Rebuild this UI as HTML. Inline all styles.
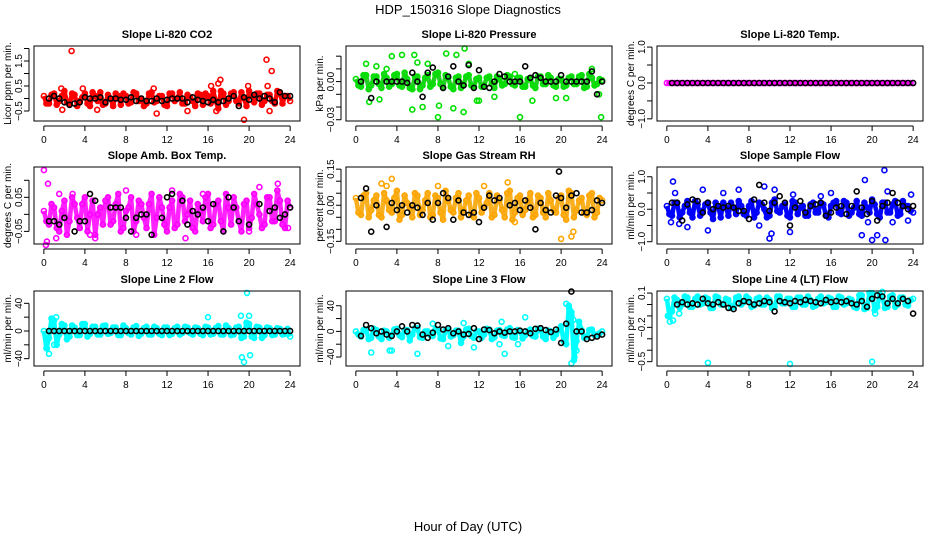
<!DOCTYPE html>
<html><head><meta charset="utf-8"><style>
html,body{margin:0;padding:0;background:#fff;}
svg{display:block;font-family:"Liberation Sans",Arial,sans-serif;}
</style></head><body>
<svg id="chart" width="936" height="540" viewBox="0 0 936 540" xmlns="http://www.w3.org/2000/svg">
<rect width="936" height="540" fill="#fff"/>
<text x="468" y="14" font-size="13" text-anchor="middle">HDP_150316  Slope Diagnostics</text>
<text x="468" y="531" font-size="13" text-anchor="middle">Hour of Day (UTC)</text>
<g id="panels"></g>
</svg>
<script>
const xTicks=[0,4,8,12,16,20,24];
const co2A=[0.1,-0.2,0.2,-0.1,0.3,-0.25,0.15,-0.1,0.2,-0.3,0.1,0.25,-0.2,0.0,0.2,-0.25,0.1,-0.15,0.2,0.0,-0.2,0.25,-0.1,0.1,-0.3,0.2,0.0,-0.2,0.15,-0.1,0.2,-0.25,0.1,0.3,-0.4,0.2,-0.1,0.25,-0.2,0.0,0.3,-0.15,0.2,-0.1,0.15,-0.2,0.25,0.1,-0.1];
const co2B=[-0.2,0.15,-0.25,0.1,-0.15,0.2,-0.3,0.05,-0.2,0.25,-0.1,-0.25,0.15,-0.3,0.1,0.2,-0.2,0.25,-0.1,-0.3,0.2,-0.15,0.1,-0.25,0.2,-0.1,0.25,-0.2,0.05,-0.3,0.15,0.2,-0.2,-0.1,0.3,-0.25,0.2,-0.1,0.25,-0.3,0.1,0.2,-0.25,0.15,-0.1,0.3,-0.2,0.1];
const co2Out=[[2.7,1.9],[21.7,1.55],[22.2,1.1],[19.5,-0.85],[1.7,0.4],[17,0.6],[17.2,0.75],[16.8,-0.5],[11,-0.6],[14,-0.5],[21.8,0.5],[1.8,-0.45],[5.2,-0.45],[10.7,0.4],[19.9,0.5],[22,-0.5],[3.8,0.4],[16.3,0.5]];
const co2K=[null,0.0,0.1,0.0,-0.15,-0.25,-0.2,-0.15,0.05,0.0,0.0,0.05,-0.15,0.0,0.0,-0.05,-0.05,0.05,-0.1,0.0,-0.1,-0.1,0.0,-0.1,-0.05,0.0,0.0,0.0,-0.15,0.05,-0.05,-0.1,-0.15,-0.05,-0.15,-0.1,0.0,0.1,-0.3,0.05,-0.05,0.15,0.0,0.1,0.0,-0.15,0.25,0.1,0.1];
const prA=[0.002,-0.004,0.005,-0.003,0.004,-0.005,0.003,-0.002,0.006,-0.004,0.002,-0.006,0.004,-0.003,0.005,-0.002,0.007,-0.005,0.003,-0.006,0.004,-0.002,0.005,-0.004,0.003,-0.003,0.004,-0.005,0.002,-0.002,0.004,-0.003,0.003,-0.004,0.002,-0.005,0.004,-0.002,0.003,-0.004,0.002,-0.003,0.004,-0.002,0.005,-0.004,0.003,-0.002,0.001];
const prB=[-0.003,0.005,-0.006,0.004,-0.002,0.006,-0.004,0.005,-0.003,0.007,-0.005,0.004,-0.006,0.003,-0.004,0.006,-0.002,0.005,-0.004,0.003,-0.005,0.004,-0.003,0.002,-0.004,0.003,-0.002,0.004,-0.003,0.005,-0.002,0.003,-0.004,0.002,-0.003,0.004,-0.002,0.005,-0.003,0.002,-0.004,0.003,-0.002,0.004,-0.005,0.006,-0.003,0.002];
const prOut=[[1,0.014],[1.3,-0.016],[2,0.012],[2.3,-0.014],[3,0.01],[3.5,0.02],[4.5,0.021],[5.5,-0.022],[5.7,0.021],[6,0.015],[6.5,-0.02],[7,0.014],[8,-0.028],[8.1,-0.019],[8.8,0.022],[9.5,-0.021],[9.8,0.021],[10.5,-0.024],[10.6,0.026],[11,0.014],[11.8,-0.015],[12,-0.015],[13.5,-0.012],[15.5,0.006],[16,-0.028],[17.2,-0.015],[19.5,-0.013],[20.5,-0.013],[23,0.01],[23.9,-0.028],[23.7,-0.01]];
const prK=[null,0,null,-0.013,0,null,0,0,0,0,-0.001,0.007,0,-0.012,0.007,0.011,null,-0.005,0.004,0.012,0,-0.003,0.013,-0.005,0.009,-0.004,-0.005,0,0.006,0.004,0,0,0,0.012,0.003,0.005,0.003,0,0,0,0.005,0,0,0,0,0,0.008,-0.01,0];
const tmA=[0,0,0,0,0,0,0,0,0,0,0,0,0,0,0,0,0,0,0,0,0,0,0,0,0,0,0,0,0,0,0,0,0,0,0,0,0,0,0,0,0,0,0,0,0,0,0,0,0];
const tmB=[0,0,0,0,0,0,0,0,0,0,0,0,0,0,0,0,0,0,0,0,0,0,0,0,0,0,0,0,0,0,0,0,0,0,0,0,0,0,0,0,0,0,0,0,0,0,0,0];
const tmK=[null,0,0,0,0,0,0,0,0,0,0,0,0,0,0,0,0,0,0,0,0,0,0,0,0,0,0,0,0,0,0,0,0,0,0,0,0,0,0,0,0,0,0,0,0,0,0,0,0];
const amA=[0.01,-0.03,0.02,-0.05,0.04,-0.02,0.03,-0.04,0.05,0.0,-0.06,0.02,0.04,-0.03,0.03,-0.05,0.01,0.05,-0.02,0.03,-0.04,0.06,-0.01,0.02,-0.05,0.04,-0.03,0.05,0.0,-0.04,0.03,-0.02,0.06,-0.03,0.04,-0.05,0.02,0.05,-0.02,0.03,-0.04,0.06,0.0,-0.03,0.05,-0.02,0.04,-0.04,0.02];
const amB=[-0.02,0.03,-0.04,0.01,-0.06,0.05,-0.01,0.03,-0.05,0.04,0.0,-0.03,0.05,-0.02,0.06,-0.04,0.02,-0.05,0.04,-0.01,0.03,-0.06,0.05,-0.03,0.02,-0.04,0.06,-0.02,0.04,-0.05,0.01,0.05,-0.04,0.03,-0.02,0.06,-0.03,0.02,-0.05,0.04,-0.01,0.03,-0.04,0.05,-0.02,0.07,-0.03,0.04];
const amOut=[[0,0.13],[0.4,0.09],[0.3,-0.08],[0.2,-0.09],[1.2,-0.07],[1.5,0.06],[2.8,0.06],[4.5,-0.06],[5,-0.07],[8,0.07],[9,-0.06],[13.8,-0.07],[15.5,0.06],[21,0.08],[22.8,0.09],[23.8,-0.04],[20,-0.05],[12.5,0.07]];
const amK=[null,-0.02,-0.02,-0.03,-0.01,null,-0.05,-0.02,-0.02,0.06,0.04,null,null,0.02,0.02,0.02,-0.01,-0.05,-0.01,0.0,0.0,-0.06,null,-0.01,0.05,0.06,null,0.04,-0.03,0.01,0.0,0.02,-0.02,0.03,null,-0.05,0.05,0.02,-0.02,null,-0.03,null,0.03,null,0.01,0.02,-0.01,0.0,0.02];
const rhA=[0.03,-0.04,0.05,-0.02,0.04,-0.05,0.02,-0.03,0.06,-0.04,0.01,-0.05,0.04,-0.02,0.05,-0.04,0.03,-0.06,0.02,-0.03,0.05,-0.02,0.04,-0.05,0.03,-0.01,0.05,-0.04,0.02,-0.05,0.06,-0.03,0.04,-0.02,0.05,-0.04,0.03,-0.05,0.02,-0.03,0.04,-0.06,0.05,-0.02,0.03,-0.04,0.05,-0.03,0.02];
const rhB=[-0.03,0.04,-0.05,0.02,-0.04,0.05,-0.02,0.03,-0.06,0.04,-0.01,0.05,-0.04,0.02,-0.05,0.04,-0.03,0.06,-0.02,0.03,-0.05,0.02,-0.04,0.05,-0.03,0.01,-0.05,0.04,-0.02,0.05,-0.06,0.03,-0.04,0.02,-0.05,0.04,-0.03,0.05,-0.02,0.03,-0.04,0.06,-0.05,0.02,-0.03,0.04,-0.05,0.03];
const rhOut=[[3.5,0.11],[2.5,0.09],[3,0.08],[14.8,0.095],[20,-0.14],[21,-0.13],[21.2,-0.11],[15.5,-0.07],[8,0.08],[12.5,0.08]];
const rhK=[null,0.03,0.07,-0.11,0.0,null,-0.09,0.01,-0.02,0.0,-0.03,0.0,-0.01,-0.04,0.01,-0.06,0.01,0.05,0.03,-0.06,0.02,-0.03,-0.04,-0.03,-0.07,-0.01,0.04,0.02,0.03,null,0.0,0.01,-0.02,0.02,-0.01,-0.1,0.01,-0.02,-0.03,0.04,0.03,-0.01,0.04,0.05,-0.03,-0.03,-0.02,0.02,0.01];
const rhKOut=[[19.8,0.14]];
const sfA=[0.1,-0.2,0.2,-0.1,0.25,-0.25,0.15,-0.05,0.2,-0.3,0.1,0.2,-0.2,0.05,0.25,-0.15,0.1,-0.25,0.2,0.0,-0.2,0.3,-0.1,0.15,-0.25,0.2,0.05,-0.2,0.15,-0.1,0.2,-0.2,0.1,0.25,-0.15,0.2,-0.1,0.25,-0.2,0.05,0.3,-0.15,0.2,-0.1,0.15,-0.2,0.25,0.1,-0.1];
const sfB=[-0.15,0.2,-0.25,0.1,-0.1,0.25,-0.2,0.15,-0.1,0.2,-0.25,0.05,0.2,-0.15,0.1,-0.2,0.25,-0.1,0.15,-0.25,0.2,-0.05,0.1,-0.2,0.25,-0.15,0.1,-0.2,0.2,-0.1,0.15,-0.25,0.2,-0.1,0.25,-0.2,0.05,-0.15,0.2,-0.1,0.15,-0.25,0.2,-0.1,0.25,-0.15,0.1,-0.05];
const sfOut=[[0.4,-0.4],[0.6,0.85],[0.8,0.5],[1.2,-0.45],[2,-0.55],[3.5,0.6],[4,-0.65],[5.5,0.5],[7,0.6],[9,-0.5],[9.5,0.7],[10,-0.9],[10.2,-0.75],[10.5,0.6],[12,-0.7],[12.3,0.45],[15,0.4],[16,0.5],[19,-0.8],[19.3,0.9],[19.6,-0.4],[20,-0.95],[20.5,-0.8],[21.2,1.2],[21.3,-0.95],[21.5,0.55],[22,-0.4],[23.8,0.45],[23.5,-0.35]];
const sfK=[null,0.2,0.2,-0.35,0.15,0.3,0.25,-0.1,0.2,0.0,0.1,0.05,0.1,0.05,-0.05,-0.05,-0.3,0.3,0.75,0.2,-0.05,0.2,0.4,0.2,-0.5,0.05,0.25,-0.1,0.1,0.15,0.2,-0.2,-0.1,0.05,0.1,-0.15,0.1,0.55,0.05,-0.15,0.25,-0.35,0.1,0.2,0.5,0.2,0.1,0.0,0.1];
const l2A=[0,-10,15,-5,8,-8,5,-6,10,-4,6,-5,8,-3,5,-6,4,-5,7,-4,6,-5,4,-6,5,-4,6,-3,5,-5,4,-6,5,-4,7,-5,4,-5,6,-8,10,-10,5,-6,4,-5,3,-4,-8];
const l2B=[-25,18,-20,10,-12,8,-6,10,-8,6,-5,7,-4,5,-6,8,-3,5,-7,4,-5,6,-4,5,-6,4,-5,6,-3,5,-4,6,-5,4,-5,8,-6,5,-10,12,-8,6,-10,5,-6,4,-5,3];
const l2Out=[[0.5,-33],[0.3,-25],[1,-20],[1.2,20],[19.3,-38],[19.5,-45],[19.8,55],[20,22],[20.1,-35],[19.2,22],[16,20]];
const l2K=[null,0,0,0,0,0,0,0,0,0,0,0,0,0,0,0,0,0,0,0,0,0,0,0,0,0,0,0,0,0,0,0,0,0,0,0,0,0,0,0,0,0,0,0,0,0,0,0,0];
const l3A=[0,-8,3,-10,2,-12,0,-6,4,-9,2,-5,5,-10,0,-7,3,-12,2,-6,1,-8,4,-10,0,-5,3,-9,2,-7,5,-10,1,-6,3,-8,2,-12,0,-5,8,-20,30,-15,2,-8,3,-5,0];
const l3B=[-5,2,-12,4,-8,1,-10,3,-6,2,-14,5,-9,0,-6,3,-11,2,-8,1,-18,3,-7,0,-10,4,-12,1,-6,3,-9,2,-11,0,-7,4,-8,1,-10,2,-15,40,-45,15,-10,2,-6,-3];
const l3Out=[[1.5,-33],[3.3,-30],[3.5,-30],[6,-35],[9,-23],[11.5,-25],[14.5,-35],[14,-20],[14.2,15],[15.8,-20],[20.5,43],[20.8,35],[21,-50],[21.3,-40],[21.5,-30],[21,25],[21.2,18],[16.5,22],[10.5,13],[7.5,12]];
const l3K=[null,-7,10,5,-3,0,-5,-7,0,8,0,10,9,-5,-10,-2,10,3,5,-3,0,-5,-4,5,-12,3,2,-3,0,-2,0,0,1,0,-3,4,5,2,-1,3,-18,12,62,0,0,-12,-10,-8,-5];
const l4A=[0.05,-0.06,0.04,0.0,0.06,-0.02,0.07,0.01,0.05,-0.03,0.06,0.0,0.04,-0.02,0.07,0.02,0.05,-0.01,0.06,0.0,0.04,-0.02,0.07,0.01,0.05,-0.02,0.06,0.0,0.04,-0.01,0.07,0.02,0.05,-0.02,0.06,0.01,0.04,-0.03,0.08,-0.03,0.09,-0.02,0.07,-0.02,0.08,0.0,0.06,-0.01,0.05];
const l4B=[-0.1,0.06,-0.03,0.07,-0.02,0.05,0.0,0.06,-0.03,0.07,0.0,0.05,-0.03,0.06,0.0,0.07,-0.02,0.05,0.0,0.06,-0.03,0.07,0.01,0.05,-0.02,0.06,0.0,0.07,-0.02,0.05,0.01,0.06,-0.02,0.07,0.0,0.05,-0.02,0.08,-0.04,0.1,-0.05,0.09,-0.03,0.07,-0.02,0.06,0.0,0.04];
const l4Out=[[0.1,-0.1],[0.3,-0.15],[0.6,-0.14],[1.2,-0.08],[4,-0.51],[12,-0.52],[20,-0.5],[21,0.11],[20.3,-0.08],[20,0.1]];
const l4K=[null,null,0.0,0.02,0.0,0.01,0.0,0.05,0.01,0.0,0.02,0.0,-0.03,-0.04,0.01,0.03,0.02,0.0,0.01,0.03,0.02,-0.06,0.03,0.02,0.01,0.03,0.02,0.04,0.03,0.02,0.01,0.04,0.02,0.03,0.02,0.03,0.01,0.0,0.03,-0.02,0.05,0.08,0.07,0.01,0.05,0.01,0.05,0.03,-0.08];

const NS="http://www.w3.org/2000/svg";
const cols=[[34,300],[346,612],[657,923]];
const rows=[[46,121],[167,244],[291,366]];
const panels=[
 {key:"co2",title:"Slope Li-820 CO2",ylab:"Licor ppm per min.",c:0,r:0,ylim:[-0.9,2.1],ticks:[-0.5,0,0.5,1,1.5,2],labs:{"-0.5":"−0.5","0.5":"0.5","1.5":"1.5"},col:"#ff0000",band:"#ff0000",A:co2A,B:co2B,O:co2Out,K:co2K,KO:[]},
 {key:"pressure",title:"Slope Li-820 Pressure",ylab:"kPa per min.",c:1,r:0,ylim:[-0.031,0.028],ticks:[-0.03,-0.02,-0.01,0,0.01,0.02],labs:{"-0.03":"−0.03","0":"0.00"},col:"#00e000",band:"#22d022",A:prA,B:prB,O:prOut,K:prK,KO:[]},
 {key:"temp",title:"Slope Li-820 Temp.",ylab:"degrees C per min.",c:2,r:0,ylim:[-1.06,1.03],ticks:[-1,-0.5,0,0.5,1],labs:{"-1":"−1.0","0":"0.0","1":"1.0"},col:"#ff00ff",band:"#ff00ff",A:tmA,B:tmB,O:[],K:tmK,KO:[]},
 {key:"ambbox",title:"Slope Amb. Box Temp.",ylab:"degrees C per min.",c:0,r:1,ylim:[-0.087,0.139],ticks:[-0.05,0,0.05,0.1],labs:{"-0.05":"−0.05","0.05":"0.05"},col:"#ff00ff",band:"#ff22ff",A:amA,B:amB,O:amOut,K:amK,KO:[]},
 {key:"rh",title:"Slope Gas Stream RH",ylab:"percent per min.",c:1,r:1,ylim:[-0.161,0.159],ticks:[-0.15,-0.1,-0.05,0,0.05,0.1,0.15],labs:{"-0.15":"−0.15","0":"0.00","0.15":"0.15"},col:"#ffa500",band:"#f8b020",A:rhA,B:rhB,O:rhOut,K:rhK,KO:rhKOut},
 {key:"sampleflow",title:"Slope Sample Flow",ylab:"ml/min per min.",c:2,r:1,ylim:[-1.07,1.3],ticks:[-1,-0.5,0,0.5,1],labs:{"-1":"−1.0","0":"0.0","1":"1.0"},col:"#0000ff",band:"#0000ff",A:sfA,B:sfB,O:sfOut,K:sfK,KO:[]},
 {key:"line2",title:"Slope Line 2 Flow",ylab:"ml/min per min.",c:0,r:2,ylim:[-50.6,57.8],ticks:[-40,-20,0,20,40],labs:{"-40":"−40","0":"0","40":"40"},col:"#00ffff",band:"#00ffff",A:l2A,B:l2B,O:l2Out,K:l2K,KO:[]},
 {key:"line3",title:"Slope Line 3 Flow",ylab:"ml/min per min.",c:1,r:2,ylim:[-54,63],ticks:[-40,-20,0,20,40],labs:{"-40":"−40","0":"0","40":"40"},col:"#00ffff",band:"#00ffff",A:l3A,B:l3B,O:l3Out,K:l3K,KO:[]},
 {key:"line4",title:"Slope Line 4 (LT) Flow",ylab:"ml/min per min.",c:2,r:2,ylim:[-0.538,0.118],ticks:[-0.5,-0.4,-0.3,-0.2,-0.1,0,0.1],labs:{"-0.5":"−0.5","-0.2":"−0.2","0.1":"0.1"},col:"#00ffff",band:"#00ffff",A:l4A,B:l4B,O:l4Out,K:l4K,KO:[]}
];
function mk(tag,attrs,parent){const e=document.createElementNS(NS,tag);for(const k in attrs)e.setAttribute(k,attrs[k]);parent.appendChild(e);return e;}
const root=document.getElementById("panels");
panels.forEach(p=>{
 const [l,r]=cols[p.c],[t,b]=rows[p.r];
 const xs=h=>l+(h+0.96)/25.92*(r-l);
 const ys=v=>b-(v-p.ylim[0])/(p.ylim[1]-p.ylim[0])*(b-t);
 const g=mk("g",{},root);
 
 
 const ti=mk("text",{x:(l+r)/2,y:t-8,"font-size":11,"font-weight":"bold","text-anchor":"middle"},g);ti.textContent=p.title;
 
 
 const yl=mk("text",{x:0,y:0,"font-size":10,"text-anchor":"middle",transform:`translate(${l-23},${(t+b)/2}) rotate(-90)`},g);yl.textContent=p.ylab;
 
 
 // dense cloud band: zigzag through A and B values
 let zz=[];
 p.A.forEach((v,i)=>{zz.push(xs(i*0.5).toFixed(1)+","+ys(v).toFixed(1));
   if(i<p.B.length)zz.push(xs(i*0.5+0.25).toFixed(1)+","+ys(p.B[i]).toFixed(1));});
 const band=mk("polyline",{points:zz.join(" "),fill:"none",stroke:p.band,"stroke-width":4.5,"stroke-linejoin":"round"},g);
 
 
 const pts=mk("g",{fill:"none","stroke-width":1.6},g);
 
 
 function dot(h,v,color){const c=mk("circle",{cx:xs(h).toFixed(1),cy:ys(v).toFixed(1),r:2.5,stroke:color},pts);
  
  }
 p.A.forEach((v,i)=>{if(v!==null)dot(i*0.5,v,p.col);});
 p.B.forEach((v,i)=>{if(v!==null)dot(i*0.5+0.25,v,p.col);});
 p.O.forEach(d=>dot(d[0],d[1],p.col));
 p.K.forEach((v,i)=>{if(v!==null)dot(i*0.5,v,"#000");});
 p.KO.forEach(d=>dot(d[0],d[1],"#000"));
 const box=mk("rect",{x:l,y:t,width:r-l,height:b-t,fill:"none",stroke:"#000","stroke-width":1},g);
 
 
 const ax=mk("g",{stroke:"#000","stroke-width":1},g);
 
 
 mk("line",{x1:xs(0),x2:xs(24),y1:b+5,y2:b+5},ax);
 xTicks.forEach(h=>{mk("line",{x1:xs(h),x2:xs(h),y1:b+5,y2:b+10},ax);
  const tx=mk("text",{x:xs(h),y:b+22,"font-size":10,"text-anchor":"middle",stroke:"none",fill:"#000"},g);tx.textContent=h;
  
  });
 mk("line",{x1:l-5,x2:l-5,y1:ys(p.ticks[0]),y2:ys(p.ticks[p.ticks.length-1])},ax);
 p.ticks.forEach(v=>{mk("line",{x1:l-10,x2:l-5,y1:ys(v),y2:ys(v)},ax);
  const key=String(v);
  if(p.labs[key]!==undefined){const tl=mk("text",{x:0,y:0,"font-size":10,"text-anchor":"middle",transform:`translate(${l-12},${ys(v)}) rotate(-90)`},g);tl.textContent=p.labs[key];
   
   }});
});
</script>
</body></html>
